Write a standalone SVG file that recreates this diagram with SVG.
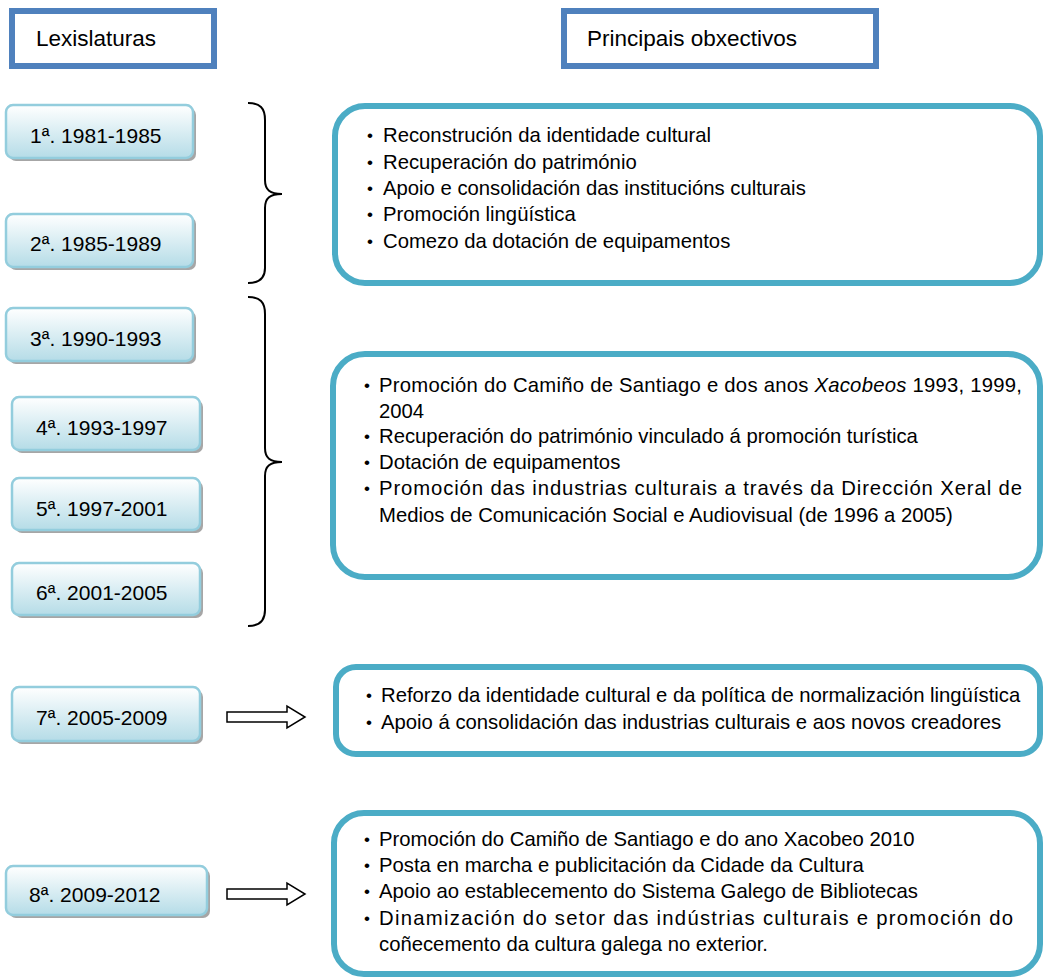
<svg xmlns="http://www.w3.org/2000/svg" width="1044" height="979" viewBox="0 0 1044 979">
<defs>
<linearGradient id="lg" x1="0" y1="0" x2="0" y2="1">
<stop offset="0" stop-color="#FFFFFF"/>
<stop offset="1" stop-color="#B5DCE7"/>
</linearGradient>
<style>
.hdr{fill:#FFFFFF;stroke:#4F81BD;stroke-width:6}
.ht{font-family:"Liberation Sans",Arial,sans-serif;font-size:22.5px;fill:#000}
.lb{fill:url(#lg);stroke:#93CDDD;stroke-width:2.5}
.sh{fill:#A6A6A6}
.lt{font-family:"Liberation Sans",Arial,sans-serif;font-size:21px;fill:#000}
.cb{fill:#FFFFFF;stroke:#4BACC6;stroke-width:6}
.ct{font-family:"Liberation Sans",Arial,sans-serif;font-size:20.3px;fill:#000}
.bu{font-family:"Liberation Sans",Arial,sans-serif;font-size:17px;fill:#000}
.br{fill:none;stroke:#000;stroke-width:2}
.ar{fill:#FFFFFF;stroke:#000;stroke-width:1.5}
</style>
</defs>
<rect width="1044" height="979" fill="#FFFFFF"/>

<g id="hdr-lexislaturas">
<rect class="hdr" x="12" y="11" width="202" height="55"/>
<text class="ht" x="36" y="46">Lexislaturas</text>
</g>
<g id="hdr-obxectivos">
<rect class="hdr" x="564" y="11" width="312" height="55"/>
<text class="ht" x="587" y="46">Principais obxectivos</text>
</g>

<g id="lex1">
<rect class="sh" x="9" y="108" width="187" height="53" rx="7"/>
<rect class="lb" x="6" y="105" width="187" height="53" rx="7"/>
<text class="lt" x="30" y="143">1ª. 1981-1985</text>
</g>
<g id="lex2">
<rect class="sh" x="9" y="217" width="187" height="53" rx="7"/>
<rect class="lb" x="6" y="214" width="187" height="53" rx="7"/>
<text class="lt" x="30" y="251">2ª. 1985-1989</text>
</g>
<g id="lex3">
<rect class="sh" x="9" y="311" width="187" height="53" rx="7"/>
<rect class="lb" x="6" y="308" width="187" height="53" rx="7"/>
<text class="lt" x="30" y="346">3ª. 1990-1993</text>
</g>
<g id="lex4">
<rect class="sh" x="15" y="400" width="188" height="53" rx="7"/>
<rect class="lb" x="12" y="397" width="188" height="53" rx="7"/>
<text class="lt" x="36" y="435">4ª. 1993-1997</text>
</g>
<g id="lex5">
<rect class="sh" x="15" y="481" width="188" height="52" rx="7"/>
<rect class="lb" x="12" y="478" width="188" height="52" rx="7"/>
<text class="lt" x="36" y="516">5ª. 1997-2001</text>
</g>
<g id="lex6">
<rect class="sh" x="15" y="566" width="188" height="52" rx="7"/>
<rect class="lb" x="12" y="563" width="188" height="52" rx="7"/>
<text class="lt" x="36" y="600">6ª. 2001-2005</text>
</g>
<g id="lex7">
<rect class="sh" x="15" y="690" width="188" height="54" rx="7"/>
<rect class="lb" x="12" y="687" width="188" height="54" rx="7"/>
<text class="lt" x="36" y="725">7ª. 2005-2009</text>
</g>
<g id="lex8">
<rect class="sh" x="9" y="869" width="201" height="49" rx="7"/>
<rect class="lb" x="6" y="866" width="201" height="49" rx="7"/>
<text class="lt" x="29" y="902">8ª. 2009-2012</text>
</g>

<g id="obx1">
<rect class="cb" x="335" y="106" width="705" height="177" rx="30"/>
<text class="bu" x="367" y="141">•</text><text class="ct" x="383" y="142">Reconstrución da identidade cultural</text>
<text class="bu" x="367" y="168">•</text><text class="ct" x="383" y="169">Recuperación do património</text>
<text class="bu" x="367" y="194">•</text><text class="ct" x="383" y="195">Apoio e consolidación das institucións culturais</text>
<text class="bu" x="367" y="220">•</text><text class="ct" x="383" y="221">Promoción lingüística</text>
<text class="bu" x="367" y="247">•</text><text class="ct" x="383" y="248">Comezo da dotación de equipamentos</text>
</g>

<g id="obx2">
<rect class="cb" x="333" y="354" width="707" height="223" rx="32"/>
<text class="bu" x="364" y="391">•</text><text class="ct" x="379" y="392" textLength="643" lengthAdjust="spacing">Promoción do Camiño de Santiago e dos anos <tspan font-style="italic">Xacobeos</tspan> 1993, 1999,</text>
<text class="ct" x="379" y="418">2004</text>
<text class="bu" x="364" y="442">•</text><text class="ct" x="379" y="443">Recuperación do património vinculado á promoción turística</text>
<text class="bu" x="364" y="468">•</text><text class="ct" x="379" y="469">Dotación de equipamentos</text>
<text class="bu" x="364" y="494">•</text><text class="ct" x="379" y="495" textLength="643" lengthAdjust="spacing">Promoción das industrias culturais a través da Dirección Xeral de</text>
<text class="ct" x="379" y="522">Medios de Comunicación Social e Audiovisual (de 1996 a 2005)</text>
</g>

<g id="obx3">
<rect class="cb" x="336" y="667" width="704" height="87" rx="20"/>
<text class="bu" x="366" y="701">•</text><text class="ct" x="381" y="702">Reforzo da identidade cultural e da política de normalización lingüística</text>
<text class="bu" x="366" y="728">•</text><text class="ct" x="381" y="729">Apoio á consolidación das industrias culturais e aos novos creadores</text>
</g>

<g id="obx4">
<rect class="cb" x="334" y="813" width="706" height="161" rx="30"/>
<text class="bu" x="364" y="845">•</text><text class="ct" x="379" y="846">Promoción do Camiño de Santiago e do ano Xacobeo 2010</text>
<text class="bu" x="364" y="871">•</text><text class="ct" x="379" y="872">Posta en marcha e publicitación da Cidade da Cultura</text>
<text class="bu" x="364" y="897">•</text><text class="ct" x="379" y="898">Apoio ao establecemento do Sistema Galego de Bibliotecas</text>
<text class="bu" x="364" y="924">•</text><text class="ct" x="379" y="925" textLength="634" lengthAdjust="spacing">Dinamización do setor das indústrias culturais e promoción do</text>
<text class="ct" x="379" y="951">coñecemento da cultura galega no exterior.</text>
</g>

<g id="connectors">
<path class="br" d="M248,103 C260,103 265,108 265,120 L265,180 C265,190 270,194 282,194 C270,194 265,198 265,208 L265,268 C265,278 260,283 248,283"/>
<path class="br" d="M248,297 C260,297 265,302 265,314 L265,448 C265,458 270,462 282,462 C270,462 265,466 265,476 L265,610 C265,620 260,626 248,626"/>
<path class="ar" d="M227,712 L287,712 L287,706 L305,717 L287,728 L287,722 L227,722 Z"/>
<path class="ar" d="M227,889 L287,889 L287,883 L305,894 L287,905 L287,899 L227,899 Z"/>
</g>
</svg>
